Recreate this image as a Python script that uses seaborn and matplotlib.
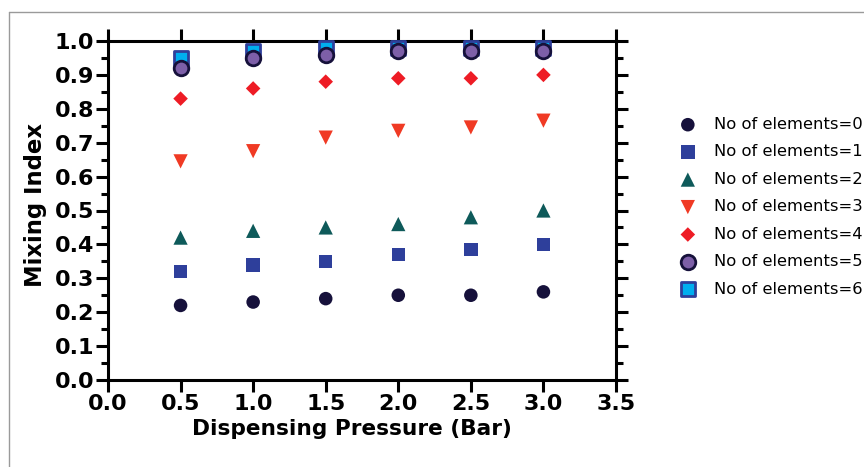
import numpy as np
import pandas as pd
import matplotlib
matplotlib.use("Agg")
import matplotlib.pyplot as plt
from matplotlib.ticker import MultipleLocator
from matplotlib.lines import Line2D
import seaborn as sns

pressure = [0.5, 1.0, 1.5, 2.0, 2.5, 3.0]
elements0 = [0.22, 0.23, 0.24, 0.25, 0.25, 0.26]
elements1 = [0.32, 0.34, 0.35, 0.37, 0.385, 0.40]
elements2 = [0.42, 0.44, 0.45, 0.46, 0.48, 0.50]
elements3 = [0.645, 0.675, 0.715, 0.735, 0.745, 0.765]
elements4 = [0.83, 0.86, 0.88, 0.89, 0.89, 0.90]
elements5 = [0.92, 0.95, 0.96, 0.97, 0.97, 0.97]
elements6 = [0.95, 0.97, 0.98, 0.98, 0.98, 0.98]
labels = ["No of elements=%d" % i for i in range(7)]
x_ticks = [0.0, 0.5, 1.0, 1.5, 2.0, 2.5, 3.0, 3.5]
y_ticks = [round(0.1 * i, 1) for i in range(11)]

series = [elements0, elements1, elements2, elements3, elements4, elements5, elements6]
styles = [
    dict(marker="o", s=95, color="#16113b", edgecolor="none", linewidth=0, zorder=3),
    dict(marker="s", s=95, color="#2e3f9b", edgecolor="none", linewidth=0, zorder=3),
    dict(marker="^", s=105, color="#0e5a5a", edgecolor="none", linewidth=0, zorder=3),
    dict(marker="v", s=105, color="#f03a24", edgecolor="none", linewidth=0, zorder=3),
    dict(marker="D", s=55, color="#ee1c25", edgecolor="none", linewidth=0, zorder=3),
    dict(marker="o", s=110, color="#7d5fa8", edgecolor="#16113b", linewidth=2.0, zorder=5),
    dict(marker="s", s=110, color="#00aeef", edgecolor="#2e3f9b", linewidth=2.0, zorder=4),
]

sns.set_style("ticks")
plt.rcParams["font.family"] = ["DejaVu Sans"]
plt.rcParams["text.color"] = "black"
plt.rcParams["axes.labelcolor"] = "black"
plt.rcParams["xtick.color"] = "black"
plt.rcParams["ytick.color"] = "black"

fig = plt.figure(figsize=(8.64, 4.67), dpi=100)
ax = fig.add_axes([108 / 864, 1 - 380 / 467, (616 - 108) / 864, (380 - 41) / 467])

for vals, lab, st in zip(series, labels, styles):
    df = pd.DataFrame({"Dispensing Pressure (Bar)": pressure, "Mixing Index": vals})
    sns.scatterplot(data=df, x="Dispensing Pressure (Bar)", y="Mixing Index", ax=ax,
                    label=lab, clip_on=False, **st)

ax.set_xlim(0, 3.5)
ax.set_ylim(0, 1.0)
ax.set_xticks(x_ticks)
ax.set_xticklabels(["%.1f" % v for v in x_ticks])
ax.set_yticks(y_ticks)
ax.set_yticklabels(["%.1f" % v for v in y_ticks])
ax.yaxis.set_minor_locator(MultipleLocator(0.05))

for sp in ax.spines.values():
    sp.set_visible(True)
    sp.set_linewidth(2.2)
    sp.set_color("black")

ax.tick_params(axis="both", which="major", direction="out", length=8.5, width=2.2,
               top=True, right=True, labeltop=False, labelright=False,
               labelsize=16, pad=1.5, colors="black")
ax.tick_params(axis="y", which="minor", direction="out", length=5, width=2.2,
               left=True, right=True, colors="black")
for t in ax.get_xticklabels() + ax.get_yticklabels():
    t.set_fontweight("bold")

ax.set_xlabel("Dispensing Pressure (Bar)", fontsize=15.6, fontweight="bold", color="black")
ax.set_ylabel("Mixing Index", fontsize=16.4, fontweight="bold", color="black")
ax.xaxis.set_label_coords((352 - 108) / 508, (380 - 419) / 339)
ax.yaxis.set_label_coords((47 - 108) / 508, (380 - 205) / 339)

leg = ax.legend(loc="upper left", bbox_to_anchor=(678 / 864, 1 - 117 / 467),
                bbox_transform=fig.transFigure, frameon=False, fontsize=11.8,
                handletextpad=1.0, labelspacing=0.76, borderaxespad=0,
                handlelength=1.2, borderpad=0)
for t in leg.get_texts():
    t.set_color("black")

fig.add_artist(Line2D([9 / 864, 9 / 864], [0, 1 - 12 / 467], transform=fig.transFigure,
                      color="#9a9a9a", linewidth=1.0))
fig.add_artist(Line2D([9 / 864, 1], [1 - 12 / 467, 1 - 12 / 467], transform=fig.transFigure,
                      color="#9a9a9a", linewidth=1.0))

fig.savefig("out.png", dpi=100)
